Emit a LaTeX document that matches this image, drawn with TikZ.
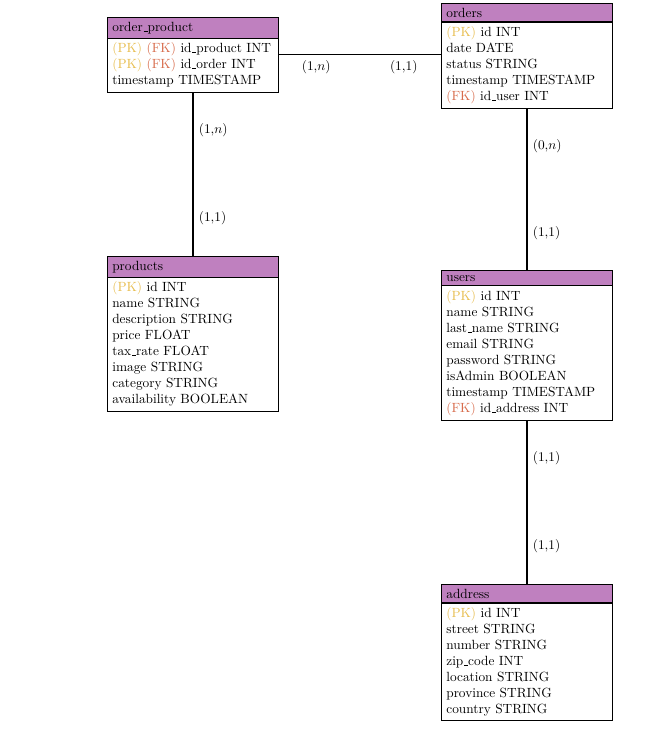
\documentclass[tikz,border=0pt]{standalone}
\usetikzlibrary{shapes.multipart}

\definecolor{pkcol}{RGB}{232,190,80}
\definecolor{fkcol}{RGB}{216,108,76}

\tikzset{every picture/.style={line width=0.8pt}}
\tikzset{table/.style={rectangle split, rectangle split parts=2, draw, anchor=north west,
    rectangle split part fill={violet!50,white}, text width=121pt, align=left,
    inner xsep=3.6pt, inner ysep=3pt}}
\tikzset{card/.style={font=\normalsize, inner sep=2pt}}
\newcommand{\pk}{\textcolor{pkcol}{(PK)}}
\newcommand{\fk}{\textcolor{fkcol}{(FK)}}
\newcommand{\us}{\leavevmode\kern.06em\vbox{\hrule width.3em}}
\newcommand{\rel}[3]{-- node[card, #1, pos=.23]{#2} node[card, #1, pos=.77]{#3}}

\begin{document}
\begin{tikzpicture}[x=0.75pt, y=-0.75pt]
        \useasboundingbox (0,0) rectangle (654,742);
        \node[table] (op) at (107,17) {order\us product
            \nodepart{two} \pk{} \fk{} id\us product INT\\ \pk{} \fk{} id\us order INT\\ timestamp TIMESTAMP};
        \node[table] (ord) at (441,3) {orders
            \nodepart{two} \pk{} id INT\\ date DATE\\ status STRING\\ timestamp TIMESTAMP\\ \fk{} id\us user INT};
        \node[table] (prod) at (107,256) {products
            \nodepart{two} \pk{} id INT\\ name STRING\\ description STRING\\ price FLOAT\\ tax\us rate FLOAT\\ image STRING\\ category STRING\\ availability BOOLEAN};
        \node[table] (usr) at (441,270) {users
            \nodepart{two} \pk{} id INT\\ name STRING\\ last\us name STRING\\ email STRING\\ password STRING\\ isAdmin BOOLEAN\\ timestamp TIMESTAMP\\ \fk{} id\us address INT};
        \node[table] (addr) at (441,584) {address
            \nodepart{two} \pk{} id INT\\ street STRING\\ number STRING\\ zip\us code INT\\ location STRING\\ province STRING\\ country STRING};
        \draw (op.east) \rel{below=2pt}{(1,$n$)}{(1,1)} (op.east -| ord.west);
        \draw (op.south) \rel{right=2pt}{(1,$n$)}{(1,1)} (prod.north);
        \draw (ord.south) \rel{right=2pt}{(0,$n$)}{(1,1)} (usr.north);
        \draw (usr.south) \rel{right=2pt}{(1,1)}{(1,1)} (addr.north);
    \end{tikzpicture}
\end{document}
